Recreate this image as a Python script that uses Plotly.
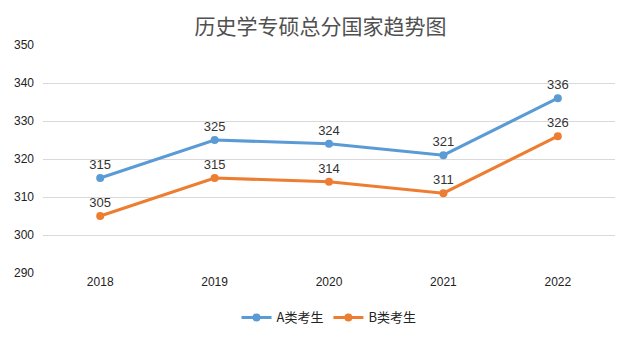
import plotly.graph_objects as go

years = ["2018", "2019", "2020", "2021", "2022"]
a_scores = [315, 325, 324, 321, 336]
b_scores = [305, 315, 314, 311, 326]
y_ticks = [290, 300, 310, 320, 330, 340, 350]

fig = go.Figure()
for name, vals, color in [("A类考生", a_scores, "#5B9BD5"), ("B类考生", b_scores, "#ED7D31")]:
    fig.add_trace(go.Scatter(
        x=years, y=vals, name=name, mode="lines+markers+text",
        line=dict(color=color, width=3), marker=dict(size=8, color=color),
        text=[str(v) for v in vals], textposition="top center",
        textfont=dict(size=13, color="#333333", family="Liberation Sans, Arial"),
    ))

fig.update_layout(
    width=638, height=356,
    margin=dict(l=35, r=31, t=37, b=91, autoexpand=False),
    paper_bgcolor="white", plot_bgcolor="white",
    title=dict(text="历史学专硕总分国家趋势图", x=0.49, xanchor="center", y=0.948, yref="container",
               yanchor="middle",
               font=dict(size=21, color="#505050", family="Noto Sans CJK SC")),
    font=dict(family="Liberation Sans, Arial", size=12, color="#222222"),
    showlegend=True,
    legend=dict(orientation="h", x=0.5, xanchor="center", y=-0.195, yanchor="middle",
                font=dict(size=13, family="Noto Sans CJK SC", color="#222222")),
    xaxis=dict(type="category", range=[-0.5, 4.5], showgrid=False, showline=False,
               ticks="", automargin=False, tickfont=dict(size=12, color="#222222")),
    yaxis=dict(range=[290, 350], tickvals=y_ticks, showgrid=True, gridcolor="#D9D9D9",
               gridwidth=1, zeroline=False, showline=False, ticks="", ticklabelstandoff=8,
               automargin=False, tickfont=dict(size=12, color="#222222")),
)
fig.write_html("out.html")
